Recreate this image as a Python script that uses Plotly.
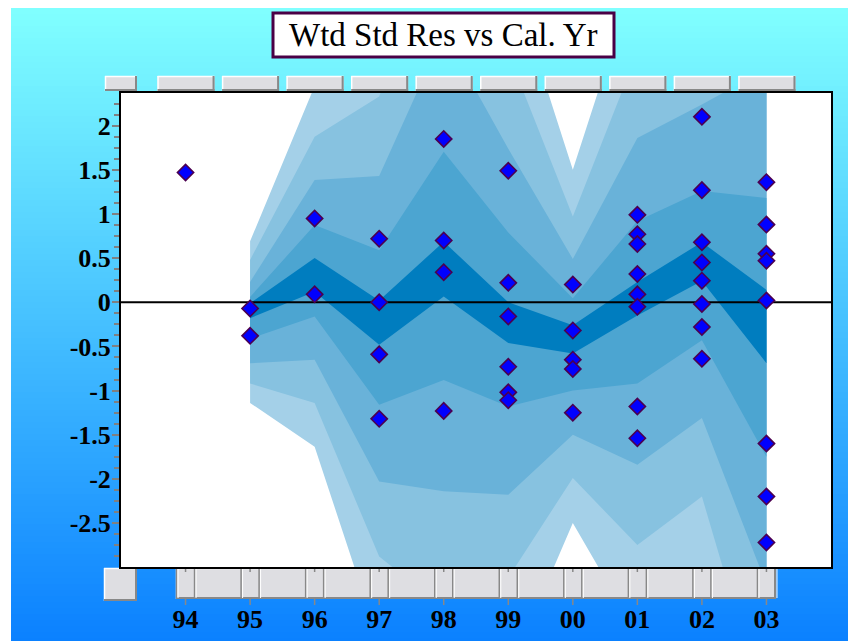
import plotly.graph_objects as go

# ---------------- data ----------------
year_labels = ['94', '95', '96', '97', '98', '99', '00', '01', '02', '03']
year_pos = [94, 95, 96, 97, 98, 99, 100, 101, 102, 103]

# weighted standardized residuals per calendar year (aligned with year_labels)
residuals = [
    [1.47],
    [-0.07, -0.38],
    [0.95, 0.09],
    [0.72, 0.0, -0.59, -1.32],
    [1.85, 0.70, 0.34, -1.23],
    [1.49, 0.22, -0.16, -0.73, -1.02, -1.11],
    [0.20, -0.32, -0.65, -0.755, -1.25],
    [0.99, 0.77, 0.66, 0.32, 0.09, -0.05, -1.18, -1.54],
    [2.10, 1.27, 0.68, 0.45, 0.245, -0.02, -0.28, -0.64],
    [1.36, 0.88, 0.55, 0.47, 0.02, -1.60, -2.20, -2.72],
]

# fan bands (years 95..03), outermost first
band_years = [95, 96, 97, 98, 99, 100, 101, 102, 103]
upper_1 = [0.69, 2.45, 3.22, 5.50, 3.78, 1.50, 3.76, 3.95, 5.57]
upper_2 = [0.48, 1.875, 2.33, 4.28, 2.82, 0.97, 2.83, 3.10, 4.11]
upper_3 = [0.23, 1.385, 1.43, 3.05, 1.74, 0.49, 1.86, 2.24, 2.64]
upper_4 = [0.06, 0.875, 0.59, 1.705, 0.79, 0.045, 0.92, 1.26, 1.18]
upper_5 = [-0.01, 0.50, 0.02, 0.686, 0.0, -0.26, 0.23, 0.68, 0.14]
lower_5 = [-0.18, 0.12, -0.48, 0.064, -0.46, -0.58, -0.15, 0.24, -0.69]
lower_4 = [-0.41, -0.16, -1.16, -0.88, -1.18, -1.00, -0.92, -0.43, -1.75]
lower_3 = [-0.69, -0.65, -2.03, -2.14, -2.18, -1.50, -1.84, -1.31, -3.20]
lower_2 = [-0.92, -1.14, -2.88, -3.46, -3.12, -1.99, -2.75, -2.20, -4.68]
lower_1 = [-1.14, -1.635, -3.85, -4.75, -4.20, -2.50, -3.76, -3.10, -6.14]

y_tickvals = [2, 1.5, 1, 0.5, 0, -0.5, -1, -1.5, -2, -2.5]
y_ticktext = ['2', '1.5', '1', '0.5', '0', '-0.5', '-1', '-1.5', '-2', '-2.5']

title_text = 'Wtd Std Res vs Cal. Yr'

# ---------------- style / layout ----------------
band_colors = ['#A4D0E8', '#87C2E0', '#69B2D9', '#4CA5D1', '#007DBF']
W, H = 856, 641          # figure size
OFF = 8                  # page offset of the figure (body margin)
L, T = 113, 85           # plot-area margins in figure coordinates
PW, PH = 710, 474
R = W - L - PW
B = H - T - PH
x_range = [93, 104]
y_range = [-2.998, 2.37]


def px(xw):
    """window pixel x -> paper x"""
    return (xw - OFF - L) / PW


def py(yw):
    """window pixel y -> paper y"""
    return (T + PH - (yw - OFF)) / PH


def xpix(v):
    return OFF + L + (v - x_range[0]) * PW / (x_range[1] - x_range[0])


fig = go.Figure()

uppers = [upper_1, upper_2, upper_3, upper_4, upper_5]
lowers = [lower_1, lower_2, lower_3, lower_4, lower_5]
for up, lo, col in zip(uppers, lowers, band_colors):
    fig.add_trace(go.Scatter(
        x=band_years + band_years[::-1],
        y=up + lo[::-1],
        fill='toself', fillcolor=col, mode='lines',
        line=dict(width=0, color=col), hoverinfo='skip', showlegend=False))

# zero reference line across the axis range
fig.add_trace(go.Scatter(x=x_range, y=[0, 0], mode='lines',
                         line=dict(color='black', width=2),
                         hoverinfo='skip', showlegend=False))

xs, ys = [], []
for yp, vals in zip(year_pos, residuals):
    for v in vals:
        xs.append(yp)
        ys.append(v)
fig.add_trace(go.Scatter(
    x=xs, y=ys, mode='markers',
    marker=dict(symbol='diamond', size=12.5, color='#0000FF',
                line=dict(color='#4B0050', width=1.6)),
    showlegend=False))

shapes = []
# background gradient
top_c = (128, 255, 255)
bot_c = (10, 128, 255)
step = 6
yy = OFF
while yy < OFF + H:
    t = (yy - OFF) / (H - OFF)
    c = tuple(int(round(a + (b - a) * t)) for a, b in zip(top_c, bot_c))
    shapes.append(dict(type='rect', xref='paper', yref='paper', layer='below',
                       x0=px(OFF), x1=px(OFF + W), y0=py(yy + step + 1), y1=py(yy),
                       fillcolor='rgb(%d,%d,%d)' % c, line=dict(width=0)))
    yy += step
shapes.append(dict(type='rect', xref='paper', yref='paper', layer='below',
                   x0=px(OFF), x1=px(11), y0=py(OFF + H), y1=py(OFF),
                   fillcolor='white', line=dict(width=0)))
# white plot area
shapes.append(dict(type='rect', xref='paper', yref='paper', layer='below',
                   x0=0, x1=1, y0=0, y1=1, fillcolor='white', line=dict(width=0)))


def button(x0, x1, y0, y1):
    out = [dict(type='rect', xref='paper', yref='paper', layer='below',
                x0=px(x0), x1=px(x1), y0=py(y1), y1=py(y0),
                fillcolor='#DEDEE2', line=dict(width=0))]
    out.append(dict(type='line', xref='paper', yref='paper', layer='below',
                    x0=px(x0), x1=px(x1), y0=py(y0 + 0.5), y1=py(y0 + 0.5),
                    line=dict(color='white', width=1.5)))
    out.append(dict(type='line', xref='paper', yref='paper', layer='below',
                    x0=px(x0 + 0.5), x1=px(x0 + 0.5), y0=py(y0), y1=py(y1),
                    line=dict(color='white', width=1.5)))
    out.append(dict(type='line', xref='paper', yref='paper', layer='below',
                    x0=px(x0), x1=px(x1), y0=py(y1 - 1), y1=py(y1 - 1),
                    line=dict(color='#888888', width=2)))
    out.append(dict(type='line', xref='paper', yref='paper', layer='below',
                    x0=px(x1 - 1), x1=px(x1 - 1), y0=py(y0), y1=py(y1),
                    line=dict(color='#888888', width=2)))
    return out


# top row of buttons
shapes += button(105, 137, 76, 91)
for yp in year_pos:
    cx = xpix(yp)
    shapes += button(cx - 28, cx + 29, 76, 91)

# bottom strip
shapes += button(104, 137, 568, 601)
shapes += button(176, 776, 568, 599)
for yp in year_pos:
    cx = xpix(yp)
    for dx in (-9, 9):
        shapes.append(dict(type='line', xref='paper', yref='paper', layer='below',
                           x0=px(cx + dx), x1=px(cx + dx), y0=py(568), y1=py(599),
                           line=dict(color='#888888', width=1.5)))
        shapes.append(dict(type='line', xref='paper', yref='paper', layer='below',
                           x0=px(cx + dx + 1.5), x1=px(cx + dx + 1.5), y0=py(568), y1=py(598),
                           line=dict(color='white', width=1)))
    shapes.append(dict(type='line', xref='paper', yref='paper', layer='below',
                       x0=px(cx), x1=px(cx), y0=py(598), y1=py(605),
                       line=dict(color='#888888', width=1.5)))
    shapes.append(dict(type='line', xref='paper', yref='paper', layer='below',
                       x0=px(cx), x1=px(cx), y0=py(568), y1=py(572),
                       line=dict(color='#888888', width=1.5)))

# title box
shapes.append(dict(type='rect', xref='paper', yref='paper', layer='below',
                   x0=px(273), x1=px(614), y0=py(57), y1=py(13),
                   fillcolor='white', line=dict(color='#4A0046', width=3)))

tick_font = dict(family='Liberation Serif', size=26, color='black', weight='bold')

fig.update_layout(
    width=W, height=H, autosize=False,
    margin=dict(l=L, r=R, t=T, b=B, pad=0),
    paper_bgcolor='#40C0FF', plot_bgcolor='rgba(0,0,0,0)',
    shapes=shapes,
    annotations=[dict(text=title_text, xref='paper', yref='paper',
                      x=px(443.5), y=py(35), xanchor='center', yanchor='middle',
                      showarrow=False,
                      font=dict(family='Liberation Serif', size=33, color='black'))],
    xaxis=dict(range=x_range, tickmode='array', tickvals=year_pos, ticktext=year_labels,
               showgrid=False, zeroline=False, ticks='', ticklabelstandoff=28,
               showline=True, mirror=True, linecolor='black', linewidth=2,
               tickfont=tick_font),
    yaxis=dict(range=y_range, tickmode='array', tickvals=y_tickvals, ticktext=y_ticktext,
               showgrid=False, zeroline=False, ticks='outside', ticklen=7, tickwidth=1.5,
               tickcolor='#808080', ticklabelstandoff=-4,
               minor=dict(dtick=0.125, tick0=0, ticks='outside', ticklen=5,
                          tickwidth=1.5, tickcolor='#808080', showgrid=False),
               showline=True, mirror=True, linecolor='black', linewidth=2,
               tickfont=tick_font),
    showlegend=False,
)

fig.write_html('out.html')
